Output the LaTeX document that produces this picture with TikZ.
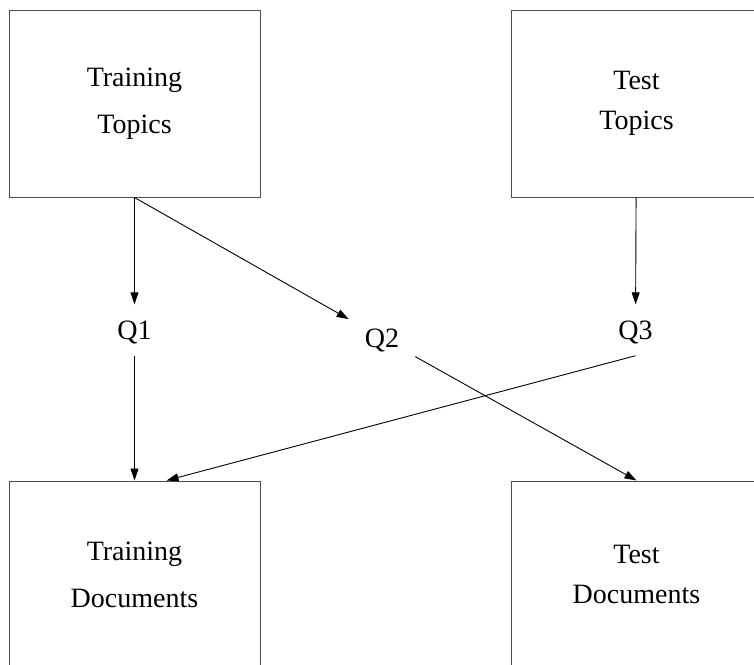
\documentclass[tikz,border=0pt]{standalone}
\usepackage{fontspec}
\setmainfont{Liberation Serif}
\usetikzlibrary{positioning,arrows.meta}

\begin{document}
\begin{tikzpicture}[x=1pt, y=-1pt, >={Triangle[length=12pt, width=8pt]},
  font=\fontsize{28}{40}\selectfont,
  setbox/.style={draw=black!70, line width=1pt, minimum width=251pt, minimum height=187pt, inner sep=0pt, align=center},
  query/.style={inner ysep=16pt, inner xsep=16pt, text height=19pt, text depth=0pt},
  flow/.style={->, line width=0.9pt}]
\useasboundingbox (0,0) rectangle (754,664);
\node[setbox] (trtop) at (134.5,103.5) {Training\\[7pt]Topics};
\node[setbox, right=250pt of trtop] (tstop) {Test\\Topics};
\node[setbox, below=283pt of trtop] (trdoc) {Training\\[7pt]Documents};
\node[setbox, below=283pt of tstop] (tsdoc) {Test\\Documents};
\node[query] (q1) at (134.5,330) {Q1};
\node[query] (q2) at (382,338) {Q2};
\node[query] (q3) at (635.5,330) {Q3};
\draw[flow] (trtop) -- (q1);
\draw[flow] (q1) -- (trdoc);
\draw[flow] (trtop.south) -- (q2);
\draw[flow] (q2) -- (tsdoc.north);
\draw[flow] (tstop) -- (q3);
\draw[flow] (q3.south) -- ([xshift=32pt]trdoc.north);
\end{tikzpicture}
\end{document}
